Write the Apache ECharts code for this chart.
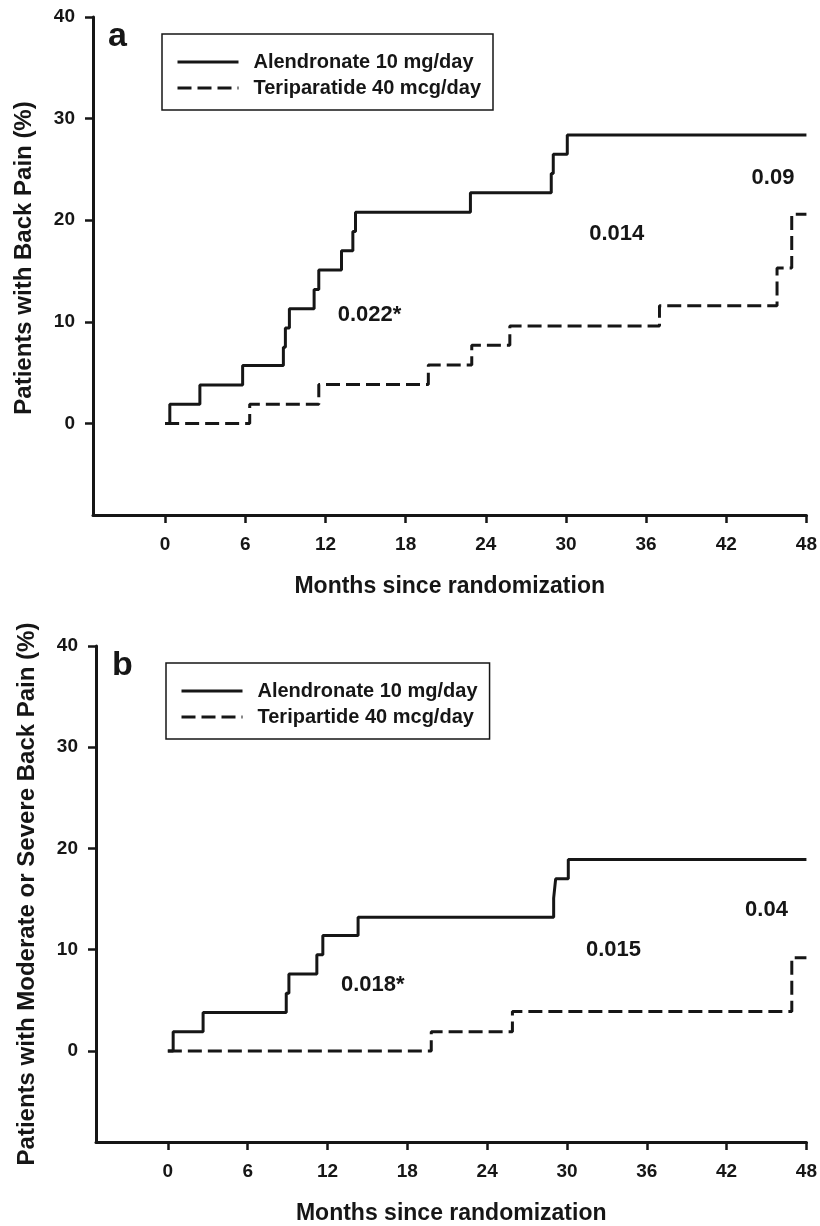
<!DOCTYPE html>
<html><head><meta charset="utf-8">
<script src="https://cdn.jsdelivr.net/npm/echarts@6/dist/echarts.min.js"></script>
<style>html,body{margin:0;padding:0;background:#fff}#c{width:820px;height:1226px}</style>
</head><body><div id="c"></div>
<script>
// ---- data ----
const monthTicks = [0, 6, 12, 18, 24, 30, 36, 42, 48];
const pctTicks = [0, 10, 20, 30, 40];
const namesA = ['Alendronate 10 mg/day', 'Teriparatide 40 mcg/day'];
const namesB = ['Alendronate 10 mg/day', 'Teripartide 40 mcg/day'];
const xTitle = 'Months since randomization';
const yTitleA = 'Patients with Back Pain (%)';
const yTitleB = 'Patients with Moderate or Severe Back Pain (%)';
const panelLabels = ['a', 'b'];

// [month, cumulative % with event]
const alendronateA = [[0,0],[0.35,1.9],[2.6,3.8],[5.8,5.7],[8.85,7.5],[9.0,9.4],[9.3,11.3],[11.15,13.2],[11.5,15.1],[13.2,17.0],[14.05,18.9],[14.25,20.8],[22.85,22.7],[28.9,24.6],[29.05,26.5],[30.1,28.4],[48,28.4]];
const teriparatideA = [[0,0],[6.33,1.9],[11.5,3.85],[19.7,5.75],[22.95,7.7],[25.8,9.6],[37.0,11.6],[45.8,15.3],[46.9,20.6],[48,20.6]];
const alendronateB = [[0,0],[0.4,1.9],[2.65,3.8],[8.9,5.7],[9.1,7.6],[11.2,9.5],[11.65,11.4],[14.3,13.2],[29.0,15.1],[29.15,17.0],[30.1,18.9],[48,18.9]];
const teriparatideB = [[0,0],[19.8,1.9],[25.9,3.9],[46.9,9.2],[48,9.2]];

const pLabelsA = ['0.022*', '0.014', '0.09'];
const pPosA = [[15.3,10.7],[33.8,18.7],[45.5,24.2]];
const pLabelsB = ['0.018*', '0.015', '0.04'];
const pPosB = [[15.4,6.5],[33.5,10.0],[45.0,13.9]];

// ---- chart ----
const FONT = '"Liberation Sans", Arial, Helvetica, sans-serif';
const INK = '#161616';

function xAxisCfg(gi) {
  return {
    type: 'value', gridIndex: gi, min: -5.4, max: 48,
    name: xTitle, nameLocation: 'middle', nameGap: 60,
    nameTextStyle: { fontFamily: FONT, fontWeight: 'bold', fontSize: 23, color: INK },
    axisLine: { show: true, onZero: false, lineStyle: { color: INK, width: 3 } },
    axisTick: { show: true, inside: false, length: 8, customValues: monthTicks, lineStyle: { color: INK, width: 2.5 } },
    axisLabel: { show: true, customValues: monthTicks, margin: 20, fontFamily: FONT, fontWeight: 'bold', fontSize: 19, color: INK },
    splitLine: { show: false }
  };
}
function yAxisCfg(gi, title, pad) {
  return {
    type: 'value', gridIndex: gi, min: -9, max: 40,
    name: title, nameLocation: 'middle', nameGap: 57,
    nameTextStyle: { fontFamily: FONT, fontWeight: 'bold', fontSize: 24, color: INK, padding: pad },
    axisLine: { show: true, onZero: false, lineStyle: { color: INK, width: 3 } },
    axisTick: { show: true, inside: false, length: 8, customValues: pctTicks, lineStyle: { color: INK, width: 2.5 } },
    axisLabel: { show: true, customValues: pctTicks, margin: 18, fontFamily: FONT, fontWeight: 'bold', fontSize: 19, color: INK },
    splitLine: { show: false }
  };
}
function stepSeries(name, data, gi, dashed) {
  return {
    type: 'line', name: name, data: data, step: 'end',
    xAxisIndex: gi, yAxisIndex: gi, symbol: 'none', silent: true, animation: false,
    itemStyle: { color: INK },
    lineStyle: { color: INK, width: 3, type: dashed ? [14, 6] : 'solid', cap: 'butt' }
  };
}
function pSeries(pos, labels, gi) {
  return {
    type: 'scatter', name: 'p' + gi, xAxisIndex: gi, yAxisIndex: gi, symbolSize: 0, silent: true, animation: false,
    itemStyle: { color: 'transparent' },
    data: pos.map((p, i) => ({ value: p, name: labels[i] })),
    label: { show: true, position: 'inside', formatter: '{b}', fontFamily: FONT, fontWeight: 'bold', fontSize: 22,
             color: INK, textBorderWidth: 0, textBorderColor: 'transparent', opacity: 1 }
  };
}
function legendCfg(names, left, top) {
  return {
    data: names, orient: 'vertical', left: left, top: top,
    itemWidth: 61, itemHeight: 14, itemGap: 6,
    padding: [18, 12, 12, 14],
    borderColor: INK, borderWidth: 1.5, backgroundColor: '#fff',
    selectedMode: false,
    itemStyle: { opacity: 0 },
    lineStyle: { width: 3 },
    textStyle: { fontFamily: FONT, fontWeight: 'bold', fontSize: 20, lineHeight: 20, color: INK, padding: [0, 0, 0, 10] }
  };
}

const chart = echarts.init(document.getElementById('c'), null, { renderer: 'canvas' });
chart.setOption({
  backgroundColor: '#fff',
  animation: false,
  grid: [
    { left: 93, top: 17, width: 715, height: 498 },
    { left: 96, top: 646, width: 712, height: 498 }
  ],
  xAxis: [xAxisCfg(0), xAxisCfg(1)],
  yAxis: [yAxisCfg(0, yTitleA, [0, 0, 0, 16]), yAxisCfg(1, yTitleB, 0)],
  legend: [legendCfg(namesA, 162, 34), legendCfg(namesB, 166, 663)],
  graphic: [
    { type: 'text', left: 108, top: 20, style: { text: panelLabels[0], font: 'bold 34px ' + FONT, fill: INK } },
    { type: 'text', left: 112, top: 649, style: { text: panelLabels[1], font: 'bold 34px ' + FONT, fill: INK } }
  ],
  series: [
    stepSeries(namesA[0], alendronateA, 0, false),
    stepSeries(namesA[1], teriparatideA, 0, true),
    pSeries(pPosA, pLabelsA, 0),
    stepSeries(namesB[0], alendronateB, 1, false),
    stepSeries(namesB[1], teriparatideB, 1, true),
    pSeries(pPosB, pLabelsB, 1)
  ]
});
</script></body></html>
